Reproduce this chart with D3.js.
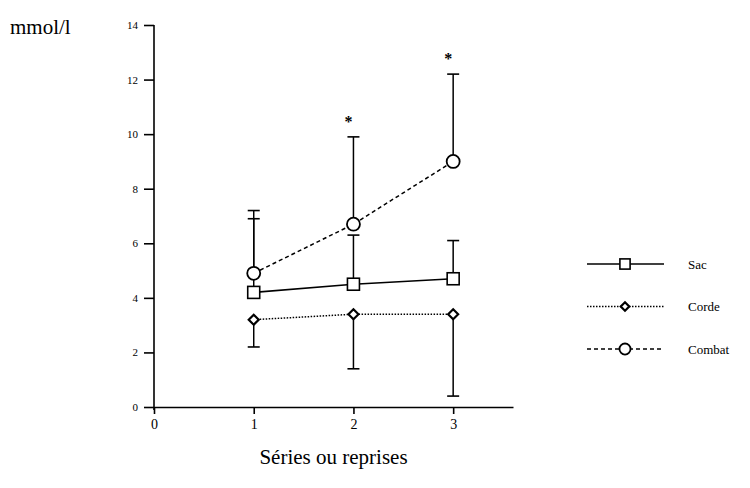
<!DOCTYPE html>
<html>
<head>
<meta charset="utf-8">
<script src="https://cdn.jsdelivr.net/npm/d3@7"></script>
<style>
body { margin: 0; background: white; }
svg { font-family: "Liberation Serif", "DejaVu Serif", serif; }
</style>
</head>
<body>
<svg id="chart"></svg>
<script>
var width = 750;
var height = 488;

// data
var reprises = [1, 2, 3];
var xTicks = [0, 1, 2, 3];
var yTicks = [0, 2, 4, 6, 8, 10, 12, 14];
var seriesNames = ["Sac", "Corde", "Combat"];
var sacMean = [4.2, 4.5, 4.7];
var sacSD = [2.7, 1.8, 1.4];
var cordeMean = [3.2, 3.4, 3.4];
var cordeSD = [1.0, 2.0, 3.0];
var combatMean = [4.9, 6.7, 9.0];
var combatSD = [2.3, 3.2, 3.2];
var starAt = [2, 3]; // significant reprises (Combat)

var x = d3.scaleLinear().domain([0, 3.6]).range([154, 513]);
var y = d3.scaleLinear().domain([0, 14]).range([407, 25]);

var svg = d3.select("#chart").attr("width", width).attr("height", height);

// axes
var yAxis = d3.axisLeft(y).tickValues(yTicks).tickSize(10).tickPadding(6).tickSizeOuter(0);
var gy = svg.append("g").attr("transform", "translate(" + x(0) + ",0)").call(yAxis);
gy.select(".domain").attr("stroke-width", 1.6).attr("d", "M0," + (y(0) + 3) + "V" + y(14));
gy.selectAll(".tick line").attr("stroke-width", 1.6);
gy.selectAll(".tick text").attr("font-size", 11).attr("font-family", "Liberation Serif");

var xAxis = d3.axisBottom(x).tickValues(xTicks).tickFormat(d3.format("d"))
	.tickSize(7).tickPadding(5).tickSizeOuter(0);
var gx = svg.append("g").attr("transform", "translate(0," + y(0) + ")").call(xAxis);
gx.select(".domain").attr("stroke-width", 1.6);
gx.selectAll(".tick line").attr("stroke-width", 1.6);
gx.selectAll(".tick text").attr("font-size", 14).attr("font-family", "Liberation Serif");

svg.append("text").attr("x", 10).attr("y", 34).attr("font-size", 21).text("mmol/l");
svg.append("text").attr("x", x(1.8)).attr("y", 464).attr("text-anchor", "middle")
	.attr("font-size", 21).text("Séries ou reprises");

var styles = {
	"Sac": { mean: sacMean, sd: sacSD, dir: 1, dash: null, marker: "square" },
	"Corde": { mean: cordeMean, sd: cordeSD, dir: -1, dash: "1.5,1.5", marker: "diamond" },
	"Combat": { mean: combatMean, sd: combatSD, dir: 1, dash: "4,3", marker: "circle" }
};

function drawMarker(g, type, cx, cy, k) {
	k = k || 1;
	if (type == "square") {
		var h = 6 * k;
		g.append("rect").attr("x", cx - h).attr("y", cy - h).attr("width", 2 * h).attr("height", 2 * h)
			.attr("fill", "white").attr("stroke", "black").attr("stroke-width", 1.6);
	} else if (type == "diamond") {
		var d = 5 * k;
		g.append("path").attr("d", "M" + cx + "," + (cy - d) + "L" + (cx + d) + "," + cy + "L" + cx + "," + (cy + d) + "L" + (cx - d) + "," + cy + "Z")
			.attr("fill", "white").attr("stroke", "black").attr("stroke-width", 2.2);
	} else {
		g.append("circle").attr("cx", cx).attr("cy", cy).attr("r", 6.5 * k)
			.attr("fill", "white").attr("stroke", "black").attr("stroke-width", 1.8);
	}
}

var line = d3.line().x(d => x(d[0])).y(d => y(d[1]));

// error bars first, then lines, then markers
seriesNames.forEach(function (name) {
	var s = styles[name];
	reprises.forEach(function (r, i) {
		var end = s.mean[i] + s.dir * s.sd[i];
		svg.append("line").attr("x1", x(r)).attr("x2", x(r))
			.attr("y1", y(s.mean[i])).attr("y2", y(end))
			.attr("stroke", "black").attr("stroke-width", 1.5);
		svg.append("line").attr("x1", x(r) - 6).attr("x2", x(r) + 6)
			.attr("y1", y(end)).attr("y2", y(end))
			.attr("stroke", "black").attr("stroke-width", 1.6);
	});
});

seriesNames.forEach(function (name) {
	var s = styles[name];
	var pts = reprises.map((r, i) => [r, s.mean[i]]);
	svg.append("path").attr("d", line(pts)).attr("fill", "none")
		.attr("stroke", "black").attr("stroke-width", 1.5)
		.attr("stroke-dasharray", s.dash);
	var g = svg.append("g");
	pts.forEach(p => drawMarker(g, s.marker, x(p[0]), y(p[1])));
});

// asterisks above Combat error bars
starAt.forEach(function (r) {
	var i = reprises.indexOf(r);
	var top = combatMean[i] + combatSD[i];
	svg.append("text").attr("x", x(r) - 5).attr("y", y(top) - 10)
		.attr("text-anchor", "middle").attr("font-size", 16).attr("font-weight", "bold").text("*");
});

// legend
var legend = svg.append("g");
seriesNames.forEach(function (name, i) {
	var s = styles[name];
	var ly = 264 + i * 42.5;
	legend.append("line").attr("x1", 587).attr("x2", 664).attr("y1", ly).attr("y2", ly)
		.attr("stroke", "black").attr("stroke-width", 1.3).attr("stroke-dasharray", s.dash);
	drawMarker(legend, s.marker, 625, ly, 0.85);
	legend.append("text").attr("x", 688).attr("y", ly + 4.5).attr("font-size", 13).text(name);
});
</script>
</body>
</html>
